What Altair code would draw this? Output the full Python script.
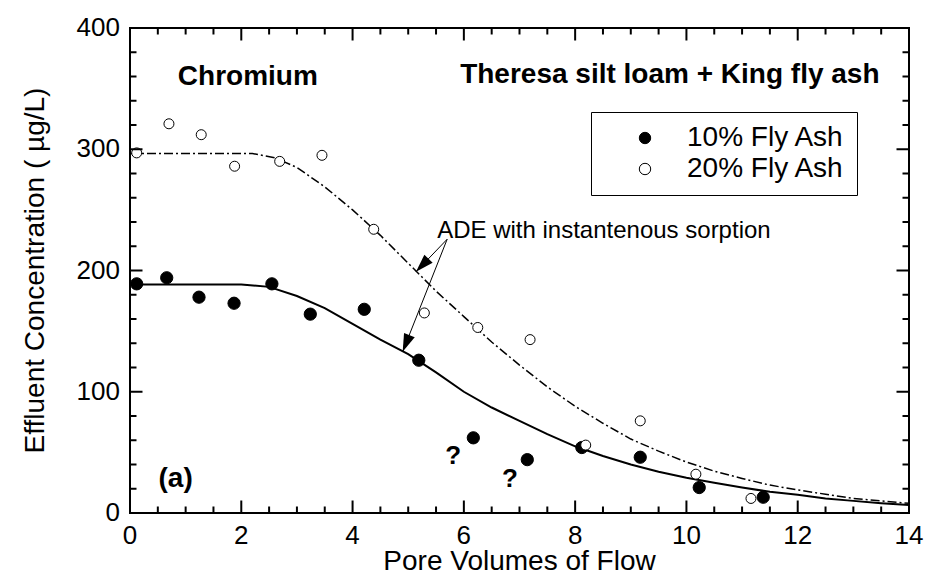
import altair as alt
import pandas as pd

# ---------------- data ----------------
series = ["10% Fly Ash", "20% Fly Ash"]

x_10 = [0.12, 0.66, 1.24, 1.87, 2.55, 3.24, 4.21, 5.19, 6.17, 7.14, 8.12, 9.17, 10.23, 11.38]
y_10 = [189, 194, 178, 173, 189, 164, 168, 126, 62, 44, 54, 46, 21, 13]

x_20 = [0.12, 0.70, 1.28, 1.88, 2.69, 3.45, 4.38, 5.29, 6.25, 7.19, 8.19, 9.17, 10.17, 11.16]
y_20 = [297, 321, 312, 286, 290, 295, 234, 165, 153, 143, 56, 76, 32, 12]

# ADE with instantaneous sorption (model curves)
fit10_x = [0, 2.0, 2.5, 3.0, 3.5, 4.0, 4.5, 5.0, 5.5, 6.0, 6.5, 7.0, 7.5, 8.0, 8.5,
           9.0, 9.5, 10.0, 10.5, 11.0, 11.5, 12.0, 12.5, 13.0, 13.5, 14.0]
fit10_y = [188.5, 188.5, 186.5, 179, 169, 156, 143, 131, 116, 100, 87, 76, 65, 55, 47,
           40, 34, 29, 25, 21, 17.5, 15, 12, 10, 8, 6.5]
fit20_x = [0, 2.2, 2.6, 3.0, 3.5, 4.0, 4.5, 5.0, 5.5, 6.0, 6.5, 7.0, 7.5, 8.0, 8.5,
           9.0, 9.5, 10.0, 10.5, 11.0, 11.5, 12.0, 12.5, 13.0, 13.5, 14.0]
fit20_y = [296.5, 296.5, 293, 285, 269, 250, 229, 206, 183, 162, 141, 122, 104, 88, 74,
           61, 51, 42, 34.5, 28.5, 23, 19, 15.5, 12, 10, 8]

x_major = [0, 2, 4, 6, 8, 10, 12, 14]
x_minor = [0.5, 1, 1.5, 2.5, 3, 3.5, 4.5, 5, 5.5, 6.5, 7, 7.5, 8.5, 9, 9.5,
           10.5, 11, 11.5, 12.5, 13, 13.5]
y_major = [0, 100, 200, 300, 400]
y_minor = [20, 40, 60, 80, 120, 140, 160, 180, 220, 240, 260, 280, 320, 340, 360, 380]

x_title = "Pore Volumes of Flow"
y_title = "Effluent Concentration ( µg/L)"

ann_label = ["Chromium", "Theresa silt loam + King fly ash", "ADE with instantenous sorption",
             "?", "?", "(a)"]
ann_x = [0.86, 13.47, 5.52, 5.81, 6.83, 0.82]
ann_y = [353, 355, 226.6, 40.4, 21.2, 21.7]
ann_kind = ["bold_left", "bold_right", "regular_left", "bold_center", "bold_center", "bold_center"]
ann_size = [28, 28, 24, 26, 26, 28]

arrow_x0 = [5.70, 5.70]
arrow_y0 = [225.8, 225.8]
arrow_x1 = [5.14, 4.90]
arrow_y1 = [199.0, 133.0]
arrow_angle = [224, 202]

# ---------------- tables ----------------
pts = pd.DataFrame({
    "x": x_10 + x_20,
    "y": y_10 + y_20,
    "series": [series[0]] * len(x_10) + [series[1]] * len(x_20),
})
fit10 = pd.DataFrame({"x": fit10_x, "y": fit10_y})
fit20 = pd.DataFrame({"x": fit20_x, "y": fit20_y})
ann = pd.DataFrame({"label": ann_label, "x": ann_x, "y": ann_y, "kind": ann_kind, "size": ann_size})
arrows = pd.DataFrame({"x0": arrow_x0, "y0": arrow_y0, "x1": arrow_x1, "y1": arrow_y1,
                       "angle": arrow_angle})

# ---------------- styling ----------------
FONT = "Liberation Sans, Arial, Helvetica, sans-serif"
W, H = 779, 485
MAJ, MIN = 12.5, 6.5
PAD = 10
XS = alt.Scale(domain=[0, 14], nice=False, zero=False)
YS = alt.Scale(domain=[0, 400], nice=False, zero=False)

fill_enc = alt.Fill(
    "series:N",
    scale=alt.Scale(domain=series, range=["black", "white"]),
    legend=alt.Legend(title=None, orient="none", legendX=461, legendY=84,
                      direction="vertical", labelFont=FONT, labelFontSize=28,
                      labelColor="black", labelLimit=400, padding=12,
                      strokeColor="black", symbolType="circle", symbolSize=130,
                      symbolStrokeColor="black", symbolStrokeWidth=1,
                      symbolOffset=28, labelOffset=28, rowPadding=3),
)


def X(field):
    return alt.X(field, scale=XS, axis=None)


def Y(field):
    return alt.Y(field, scale=YS, axis=None)


def tick_layer(values, channel, side, length):
    df = pd.DataFrame({"v": values})
    c = alt.Chart(df).mark_rule(color="black", strokeWidth=2)
    if channel == "x":
        y0 = H if side == "bottom" else 0
        y1 = H - length if side == "bottom" else length
        return c.encode(x=X("v:Q"), y=alt.value(y0), y2=alt.value(y1))
    x0 = 0 if side == "left" else W
    x1 = length if side == "left" else W - length
    return c.encode(y=Y("v:Q"), x=alt.value(x0), x2=alt.value(x1))


ticks = [
    tick_layer(x_major, "x", "bottom", MAJ), tick_layer(x_minor, "x", "bottom", MIN),
    tick_layer(x_major, "x", "top", MAJ), tick_layer(x_minor, "x", "top", MIN),
    tick_layer(y_major, "y", "left", MAJ), tick_layer(y_minor, "y", "left", MIN),
    tick_layer(y_major, "y", "right", MAJ), tick_layer(y_minor, "y", "right", MIN),
]

# tick labels, drawn through the same scales
x_labels = alt.Chart(pd.DataFrame({"lv": x_major})).mark_text(
    font=FONT, fontSize=26, color="black", align="center", baseline="top"
).encode(x=X("lv:Q"), y=alt.value(H + PAD), text=alt.Text("lv:Q", format="d"))
y_labels = alt.Chart(pd.DataFrame({"lv": y_major})).mark_text(
    font=FONT, fontSize=26, color="black", align="right", baseline="middle"
).encode(y=Y("lv:Q"), x=alt.value(-PAD), text=alt.Text("lv:Q", format="d"))

# axis titles
x_title_layer = alt.Chart(pd.DataFrame({"t": [x_title]})).mark_text(
    font=FONT, fontSize=28, color="black", align="center", baseline="alphabetic"
).encode(x=alt.value(W / 2), y=alt.value(H + 57), text="t:N")
y_title_layer = alt.Chart(pd.DataFrame({"t": [y_title]})).mark_text(
    font=FONT, fontSize=28, color="black", align="center", baseline="alphabetic", angle=270
).encode(x=alt.value(-86), y=alt.value(H / 2), text="t:N")

line10 = alt.Chart(fit10).mark_line(color="black", strokeWidth=2).encode(
    x=X("x:Q"), y=Y("y:Q"),
)
line20 = alt.Chart(fit20).mark_line(color="black", strokeWidth=1.5,
                                    strokeDash=[9, 3, 2, 3]).encode(
    x=X("x:Q"), y=Y("y:Q"),
)

arrow_lines = alt.Chart(arrows).mark_rule(color="black", strokeWidth=1).encode(
    x=X("x0:Q"), y=Y("y0:Q"), x2="x1:Q", y2="y1:Q",
)
arrow_heads = alt.Chart(arrows).mark_point(
    shape="M0,0 L0.32,1 L-0.32,1 Z", filled=True, color="black", size=1296, opacity=1
).encode(
    x=X("x1:Q"), y=Y("y1:Q"), angle=alt.Angle("angle:Q", scale=None),
)

pts10 = alt.Chart(pts).transform_filter(alt.datum.series == series[0]).mark_circle(
    stroke="black", strokeWidth=1, opacity=1, size=150
).encode(x=X("x:Q"), y=Y("y:Q"), fill=fill_enc)
pts20 = alt.Chart(pts).transform_filter(alt.datum.series == series[1]).mark_circle(
    stroke="black", strokeWidth=1, opacity=1, size=100
).encode(x=X("x:Q"), y=Y("y:Q"), fill=fill_enc)


def text_layer(kind, align, weight):
    return alt.Chart(ann).transform_filter(alt.datum.kind == kind).mark_text(
        align=align, baseline="alphabetic", font=FONT, fontWeight=weight, color="black"
    ).encode(
        x=X("x:Q"), y=Y("y:Q"), text="label:N",
        size=alt.Size("size:Q", scale=None),
    )


texts = [
    text_layer("bold_left", "left", "bold"),
    text_layer("bold_right", "right", "bold"),
    text_layer("bold_center", "center", "bold"),
    text_layer("regular_left", "left", "normal"),
]

chart = alt.layer(
    line10, line20, arrow_lines, arrow_heads, pts10, pts20, *texts,
    x_labels, y_labels, x_title_layer, y_title_layer, *ticks,
).properties(
    width=W, height=H,
    autosize=alt.AutoSizeParams(type="none"),
    padding={"left": 122, "top": 20, "right": 15, "bottom": 62},
    background="white",
).configure_view(stroke="black", strokeWidth=2)

chart.save("out.html", embed_options={"renderer": "svg", "actions": False})
